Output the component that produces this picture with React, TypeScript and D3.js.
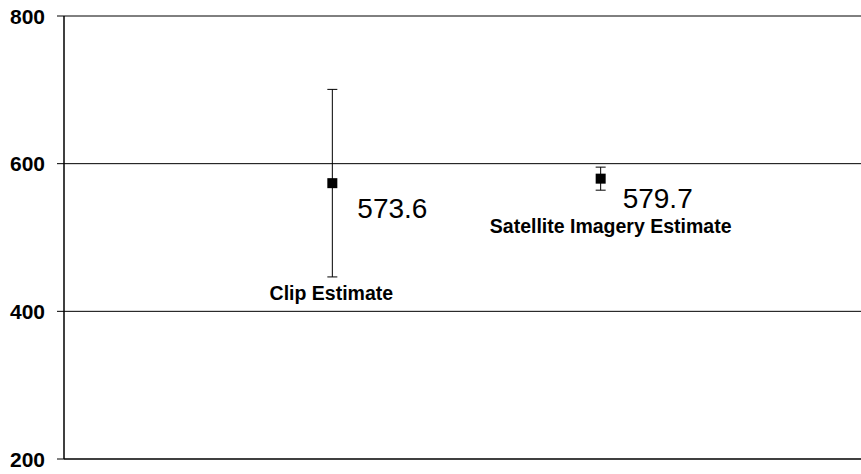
import React from "react";
import * as d3 from "d3";

const categories = ["Clip Estimate", "Satellite Imagery Estimate"];
const values = [573.6, 579.7];
const errors = [127, 15.6];
const yTicks = [200, 400, 600, 800];

// layout offsets (pixels) for labels
const valueLabelDx = [25, 22];
const valueLabelDy = [35, 29];
const catLabelDx = [-1, 10];
const catLabelY = [300, 233];

const W = 861;
const H = 474;
const margin = { left: 64, top: 16, bottom: 459 };

export default function App() {
  const x = d3.scaleLinear().domain([0, 3]).range([margin.left, 869]);
  const y = d3.scaleLinear().domain([200, 800]).range([margin.bottom, margin.top]);
  const font = "'Liberation Sans', Arial, sans-serif";
  return (
    <svg width={W} height={H} style={{ position: "absolute", left: 0, top: 0, background: "#fff" }}>
      <rect x={0} y={0} width={W} height={H} fill="#fff" />
      {yTicks.map((t) => (
        <g key={t}>
          {t !== 200 && (
            <line x1={margin.left} x2={W} y1={y(t)} y2={y(t)} stroke="#000" strokeWidth={1} />
          )}
          <line x1={57} x2={margin.left} y1={y(t)} y2={y(t)} stroke="#000" strokeWidth={1} />
          <text x={45} y={y(t) + 7.5} textAnchor="end" fontFamily={font} fontWeight="bold" fontSize={21}>
            {t}
          </text>
        </g>
      ))}
      <line x1={margin.left} x2={margin.left} y1={margin.top} y2={margin.bottom} stroke="#000" strokeWidth={1.5} />
      <line x1={margin.left} x2={W} y1={margin.bottom} y2={margin.bottom} stroke="#000" strokeWidth={1.5} />
      {categories.map((c, i) => {
        const cx = x(i + 1);
        const cy = y(values[i]);
        const hi = y(values[i] + errors[i]);
        const lo = y(values[i] - errors[i]);
        return (
          <g key={c}>
            <line x1={cx} x2={cx} y1={hi} y2={lo} stroke="#000" strokeWidth={1} />
            <line x1={cx - 5} x2={cx + 5} y1={hi} y2={hi} stroke="#000" strokeWidth={1} />
            <line x1={cx - 5} x2={cx + 5} y1={lo} y2={lo} stroke="#000" strokeWidth={1} />
            <rect x={cx - 5} y={cy - 5} width={10} height={10} fill="#000" />
            <text x={cx + valueLabelDx[i]} y={cy + valueLabelDy[i]} fontFamily={font} fontSize={28}>
              {values[i].toFixed(1)}
            </text>
            <text x={cx + catLabelDx[i]} y={catLabelY[i]} textAnchor="middle" fontFamily={font} fontWeight="bold" fontSize={19.5}>
              {c}
            </text>
          </g>
        );
      })}
    </svg>
  );
}
